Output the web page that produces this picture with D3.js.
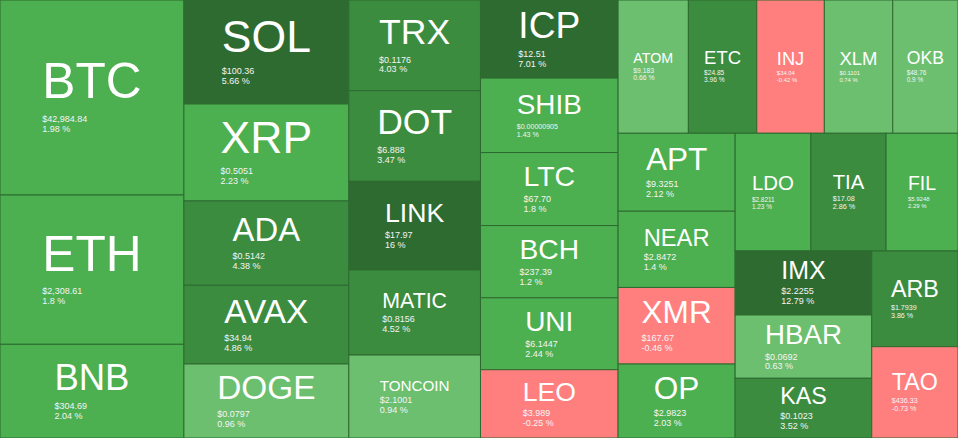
<!DOCTYPE html>
<html><head><meta charset="utf-8">
<script src="https://cdn.jsdelivr.net/npm/d3@7"></script>
<style>html,body{margin:0;padding:0;background:#fff;overflow:hidden}svg{display:block}</style>
</head><body>
<svg id="chart" width="958" height="438"></svg>
<script>
// ---- data ----
const names = ["BTC","ETH","BNB","SOL","XRP","ADA","AVAX","DOGE","TRX","DOT","LINK","MATIC","TONCOIN",
  "ICP","SHIB","LTC","BCH","UNI","LEO","ATOM","ETC","INJ","XLM","OKB","APT","NEAR","XMR","OP",
  "LDO","TIA","FIL","IMX","HBAR","KAS","ARB","TAO"];
const prices = ["$42,984.84","$2,308.61","$304.69","$100.36","$0.5051","$0.5142","$34.94","$0.0797",
  "$0.1176","$6.888","$17.97","$0.8156","$2.1001","$12.51","$0.00000905","$67.70","$237.39","$6.1447",
  "$3.989","$9.183","$24.85","$34.04","$0.1101","$48.76","$9.3251","$2.8472","$167.67","$2.9823",
  "$2.8211","$17.08","$5.9248","$2.2255","$0.0692","$0.1023","$1.7939","$436.33"];
const changes = [1.98,1.8,2.04,5.66,2.23,4.38,4.86,0.96,4.03,3.47,16,4.52,0.94,7.01,1.43,1.8,1.2,2.44,
  -0.25,0.66,3.96,-0.42,0.74,0.9,2.12,1.4,-0.46,2.03,1.23,2.86,2.29,12.79,0.63,3.52,3.86,-0.73];
// relative tile weights (estimated from tile areas)
const sizes = [35880,27470,17240,17160,16000,13910,12990,12210,11950,11930,11680,11200,10930,
  10750,10250,10050,9950,9900,9400,9370,9120,9010,9120,8700,9130,8930,8970,8660,
  8910,8860,8470,8750,8650,8160,8260,7880];

// ---- chart ----
const W = 958, H = 438;
const FONT = "'Liberation Sans', Arial, Helvetica, sans-serif";
const svg = d3.select("#chart");

const data = names.map((name, i) => ({name, price: prices[i], change: changes[i], size: sizes[i]}));
const root = d3.hierarchy({children: data}).sum(d => d.size || 0);
d3.treemap().size([W, H]).tile(d3.treemapSquarify)(root);

const color = d3.scaleThreshold()
  .domain([0, 1, 2.5, 5])
  .range(["#ff7f7f", "#6cbf6f", "#4caf50", "#3b8c3f", "#2e6b31"]);

const cells = svg.selectAll("g.cell").data(root.leaves()).join("g").attr("class", "cell");
cells.append("rect")
  .attr("x", d => d.x0).attr("y", d => d.y0)
  .attr("width", d => d.x1 - d.x0).attr("height", d => d.y1 - d.y0)
  .attr("fill", d => color(d.data.change))
  .attr("stroke", "#2d6a30").attr("stroke-width", 1);

const meas = svg.append("text").attr("font-family", FONT).attr("font-size", 100).attr("visibility", "hidden");
function unitWidth(str) { meas.text(str); return meas.node().getComputedTextLength() / 100; }

cells.each(function(d) {
  const g = d3.select(this);
  const w = d.x1 - d.x0, h = d.y1 - d.y0;
  const name = d.data.name;
  let F = 0.27 * w * Math.min(1, 3 / name.length);
  if (F > 0.495 * h) F = 0.39 * h;
  const lw = unitWidth(name) * F;
  const pStr = d.data.price, cStr = d.data.change + " %";
  const sf = Math.min(9, 0.3 * w / Math.max(unitWidth(pStr), unitWidth(cStr)));
  const gap = 0.35 * F + 0.7 * sf, lh = 1.1 * sf;
  const blockH = 0.716 * F + gap + lh;
  const base = d.y0 + (h - blockH) / 2 + 0.716 * F;
  const x = d.x0 + (w - lw) / 2;
  g.append("text").attr("x", x).attr("y", base)
    .attr("font-family", FONT).attr("font-size", F).attr("fill", "#fff").text(name);
  g.append("text").attr("x", x).attr("y", base + gap)
    .attr("font-family", FONT).attr("font-size", sf).attr("fill", "#f4f4f4").text(pStr);
  g.append("text").attr("x", x).attr("y", base + gap + lh)
    .attr("font-family", FONT).attr("font-size", sf).attr("fill", "#f4f4f4").text(cStr);
});
meas.remove();
</script>
</body></html>
